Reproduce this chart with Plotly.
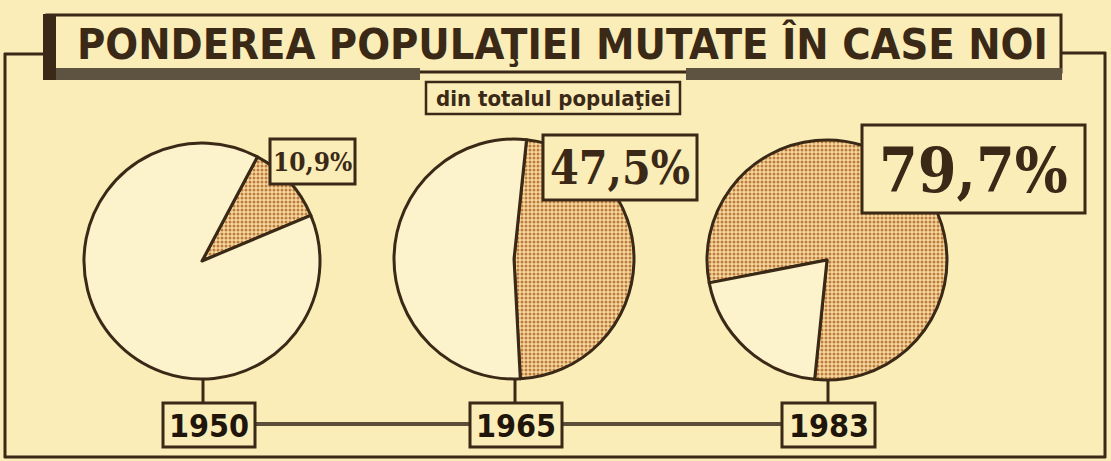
import plotly.graph_objects as go

W, H = 1111, 461

# ---- data ----
years = ["1950", "1965", "1983"]
share_moved = [10.9, 47.5, 79.7]          # % of population moved into new housing
share_other = [100 - v for v in share_moved]
pct_labels = ["10,9%", "47,5%", "79,7%"]
title_text = "PONDEREA POPULAŢIEI MUTATE ÎN CASE NOI"
subtitle_text = "din totalul populaţiei"

# ---- styling ----
PAPER = "#fbedb7"
CREAM = "#fcf2cb"
INK = "#3a2916"
TAN = "#e2b57a"
DOT = "#c07a3c"
BAR = "#5e5341"

def fx(x):
    return x / W

def fy(y):
    return 1 - y / H

# pie geometry (pixels): center x, center y, radius, rotation
pie_geo = [(202, 261, 118, 28), (514, 259, 120, 6), (827, 260, 120, 259)]

fig = go.Figure()
for i, (cx, cy, r, rot) in enumerate(pie_geo):
    fig.add_trace(go.Pie(
        values=[share_moved[i], share_other[i]],
        labels=["mutată în case noi", "rest"],
        sort=False,
        direction="clockwise",
        rotation=rot,
        textinfo="none",
        hoverinfo="skip",
        showlegend=False,
        marker=dict(
            colors=[TAN, CREAM],
            line=dict(color=INK, width=3),
            pattern=dict(shape=[".", ""], fgcolor=[DOT, CREAM], bgcolor=["#f3d9a0", CREAM],
                         size=4, solidity=0.45, fillmode="replace"),
        ),
        domain=dict(x=[fx(cx - r), fx(cx + r)], y=[fy(cy + r), fy(cy - r)]),
    ))

shapes = []

def rect(x0, y0, x1, y1, lw=3, fill=None, lc=INK):
    shapes.append(dict(type="rect", xref="paper", yref="paper",
                       x0=fx(x0), x1=fx(x1), y0=fy(y1), y1=fy(y0),
                       line=dict(color=lc, width=lw),
                       fillcolor=fill if fill else "rgba(0,0,0,0)", layer="above"))

def line(x0, y0, x1, y1, lw=3, lc=INK):
    shapes.append(dict(type="line", xref="paper", yref="paper",
                       x0=fx(x0), x1=fx(x1), y0=fy(y0), y1=fy(y1),
                       line=dict(color=lc, width=lw), layer="above"))

# outer frame
line(4, 54, 46, 54)
line(5, 53, 5, 458)
line(1062, 53, 1106, 53)
line(1105, 52, 1105, 458)
line(4, 457, 1106, 457)

# title box
rect(47, 15, 1061, 72, lw=3, fill=PAPER)
rect(43, 68, 420, 80, lw=0, fill=BAR)
rect(686, 68, 1062, 80, lw=0, fill=BAR)
rect(43, 14, 56, 80, lw=0, fill=INK)

# subtitle box
rect(426, 82, 680, 114, lw=2.5, fill=PAPER)

# percentage boxes
pct_boxes = [(270, 139, 355, 184), (543, 135, 697, 200), (862, 125, 1085, 213)]
for b in pct_boxes:
    rect(*b, lw=3, fill=PAPER)

# year boxes and timeline
year_boxes = [(163, 403, 255, 447), (470, 403, 562, 447), (782, 403, 875, 447)]
line(255, 424, 470, 424, lw=4, lc="#5c4e38")
line(562, 424, 782, 424, lw=4, lc="#5c4e38")
for (cx, cy, r, rot), b in zip(pie_geo, year_boxes):
    line(cx + 1, cy + r, cx + 1, b[1], lw=3)
    rect(*b, lw=3, fill=PAPER)

annotations = []

def text(x, y, s, size, family, color=INK):
    annotations.append(dict(x=fx(x), y=fy(y), xref="paper", yref="paper",
                            text=s, showarrow=False, xanchor="center", yanchor="middle",
                            font=dict(size=size, family=family, color=color)))

SANS_N = "Liberation Sans Narrow, DejaVu Sans Condensed, Roboto Condensed, Arial Narrow, sans-serif"
SERIF = "DejaVu Serif Condensed, DejaVu Serif, Liberation Serif, serif"

text(562, 44, "<b>" + title_text + "</b>", 43, SANS_N)
text(553, 98, "<b>" + subtitle_text + "</b>", 22, SANS_N)
pct_sizes = [26, 46, 62]
for b, s, fs in zip(pct_boxes, pct_labels, pct_sizes):
    text((b[0] + b[2]) / 2, (b[1] + b[3]) / 2 + 1, "<b>" + s + "</b>", fs, SERIF)
for b, y in zip(year_boxes, years):
    text((b[0] + b[2]) / 2, (b[1] + b[3]) / 2 + 1, "<b>" + y + "</b>", 32, SANS_N, color="#20150a")

fig.update_layout(
    width=W, height=H,
    margin=dict(l=0, r=0, t=0, b=0),
    paper_bgcolor=PAPER, plot_bgcolor=PAPER,
    shapes=shapes, annotations=annotations,
)

fig.write_html("out.html", config={"displayModeBar": False},
               post_script="document.body.style.margin='0px';document.body.style.background='" + PAPER + "';")
